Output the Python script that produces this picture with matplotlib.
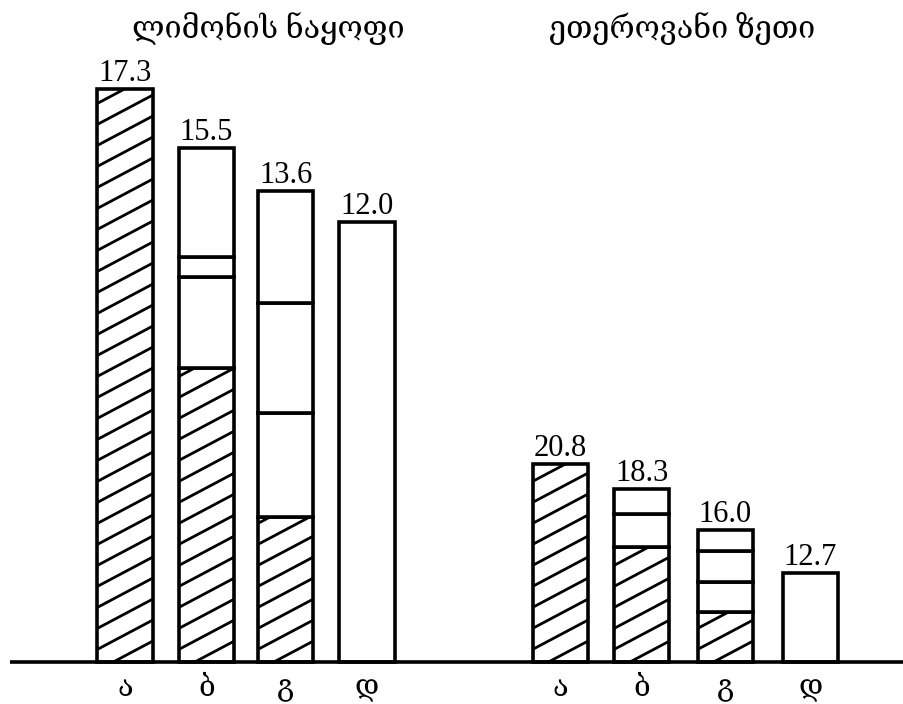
import numpy as np
import matplotlib
matplotlib.use("Agg")
import matplotlib.pyplot as plt
from matplotlib.lines import Line2D

# data
categories = ["ა", "ბ", "გ", "დ"]
group_titles = ["ლიმონის ნაყოფი", "ეთეროვანი ზეთი"]
lemon_values = [17.3, 15.5, 13.6, 12.0]
oil_values = [20.8, 18.3, 16.0, 12.7]
# drawn segment heights (bottom to top), first one hatched when flag is set
lemon_segments = [[17.36], [8.9, 2.77, 0.6, 3.31], [4.39, 3.16, 3.33, 3.39], [13.33]]
oil_segments = [[6.0], [3.48, 1.0, 0.76], [1.52, 0.9, 0.94, 0.64], [2.7]]
lemon_hatched = [True, True, True, False]
oil_hatched = [True, True, True, False]

SERIF = ["Liberation Serif", "DejaVu Serif"]
LW = 2.6

fig = plt.figure(figsize=(9.04, 7.04), dpi=100)
ax = fig.add_axes([0, 0, 1, 1])
ax.set_xlim(-1.534, 9.558)
ax.set_ylim(-1.27, 20.06)
ax.axis("off")

x_left = [0, 1.0, 1.97, 2.97]
x_right = [5.34, 6.34, 7.365, 8.41]
width = 0.68


def px_per_unit():
    p0 = ax.transData.transform((0, 0))
    p1 = ax.transData.transform((1, 1))
    return p1[0] - p0[0], p1[1] - p0[1]


def hatch_bar(patch, x0, y0, w, h):
    # diagonal '/' lines, ~28 deg, 21 px apart vertically
    sx, sy = px_per_unit()
    slope = 0.53 * sx / sy
    step = 21 / sy
    c = y0 - slope * w - step
    while c < y0 + h + step:
        xs = np.array([x0, x0 + w])
        ln = Line2D(xs, c + slope * (xs - x0), color="black", lw=2.0,
                    solid_capstyle="butt")
        ax.add_line(ln)
        ln.set_clip_path(patch)
        c += step


def draw_group(xs, segments, hatched, values):
    for k, (x, segs, hat, val) in enumerate(zip(xs, segments, hatched, values)):
        bottom = 0
        for i, s in enumerate(segs):
            bar = ax.bar(x, s, width=width, bottom=bottom, color="white",
                         edgecolor="black", linewidth=LW, zorder=2)[0]
            if hat and i == 0:
                hatch_bar(bar, x - width / 2, bottom, width, s)
            bottom += s
        ax.text(x, bottom + 0.02, f"{val:.1f}", ha="center", va="bottom",
                fontsize=22, family=SERIF)
        ax.text(x, -0.82, categories[k], ha="center", va="center",
                fontsize=21, family=SERIF)


draw_group(x_left, lemon_segments, lemon_hatched, lemon_values)
draw_group(x_right, oil_segments, oil_hatched, oil_values)

ax.plot([-1.41, 9.6], [0, 0], color="black", lw=LW, zorder=3,
        solid_capstyle="butt")

ax.text(1.76, 19.2, group_titles[0], ha="center", va="center", fontsize=22,
        family=SERIF)
ax.text(6.83, 19.2, group_titles[1], ha="center", va="center", fontsize=22,
        family=SERIF)

fig.savefig("out.png", dpi=100, facecolor="white")
